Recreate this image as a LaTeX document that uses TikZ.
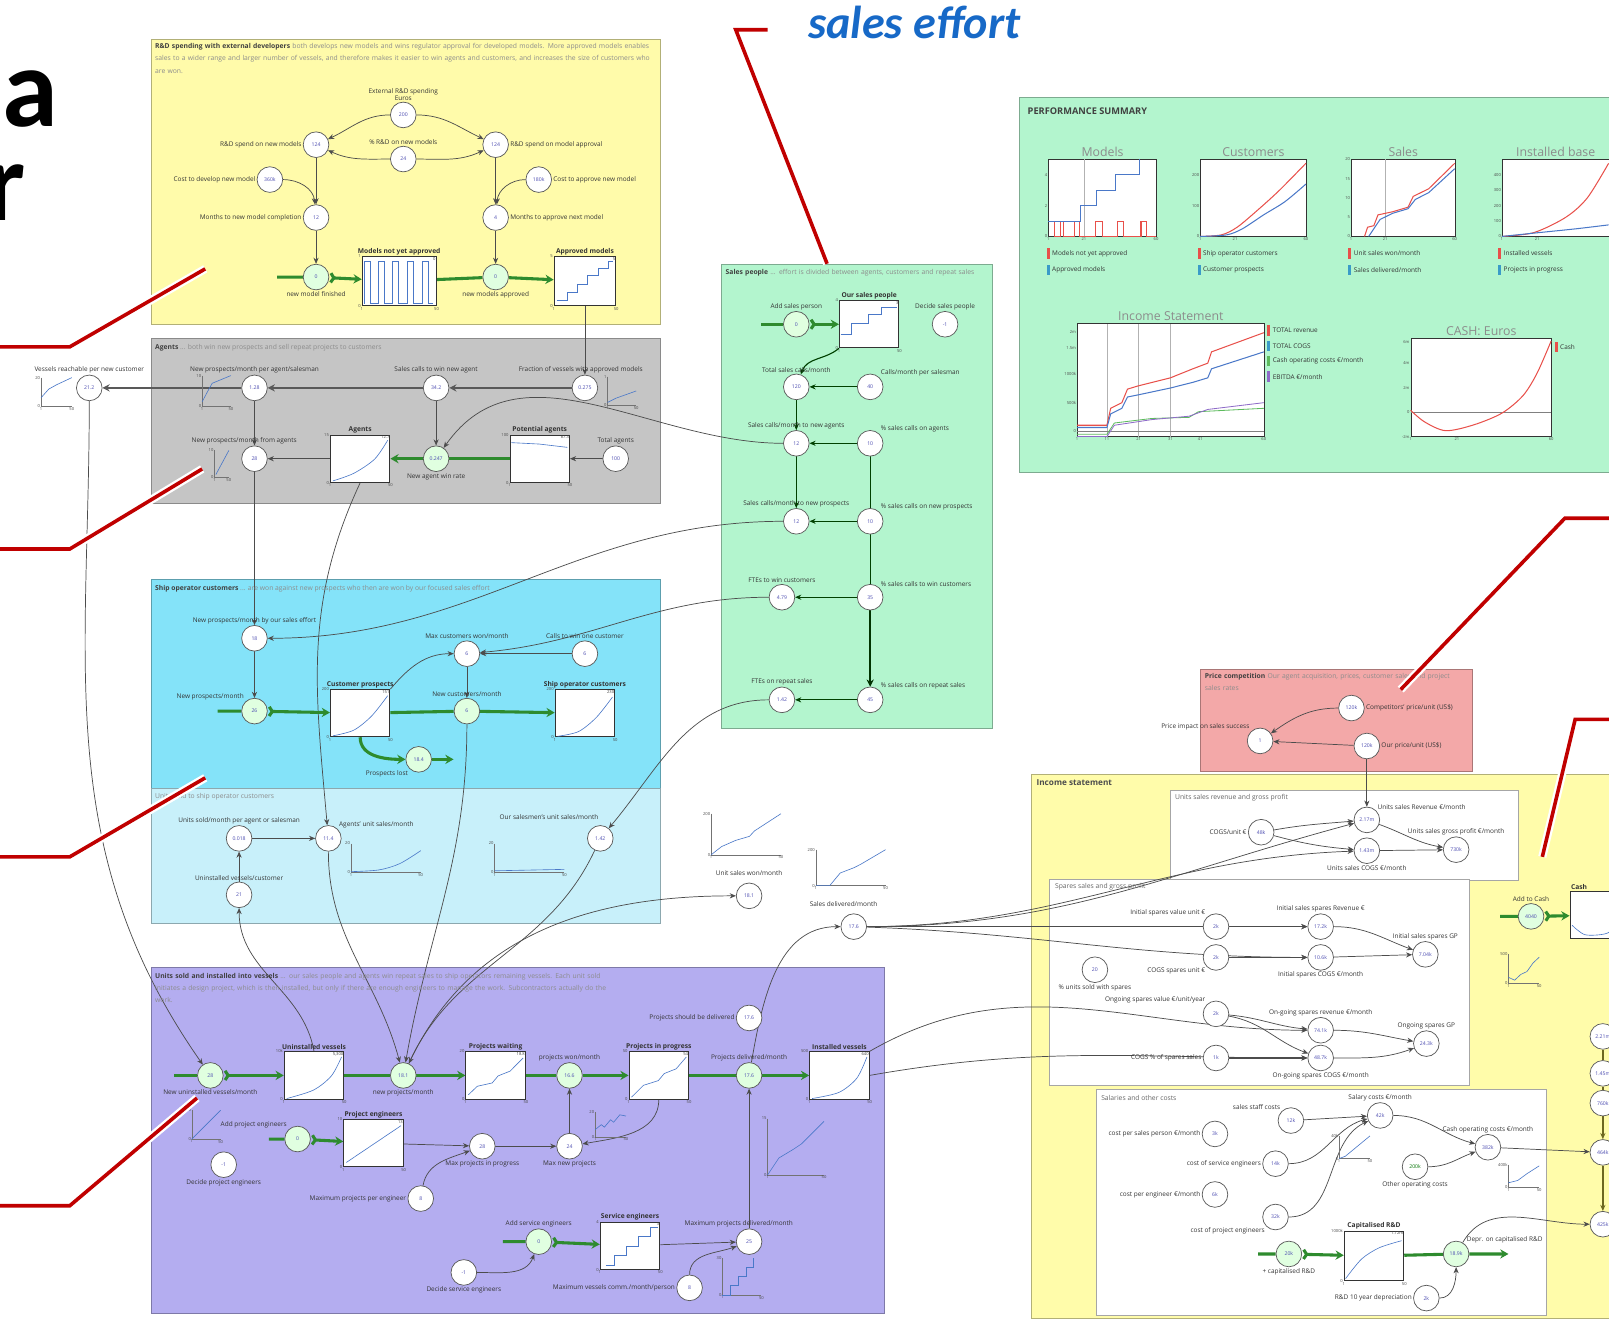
\documentclass[tikz,border=0pt]{standalone}
\usepackage{fontspec}
\setmainfont{Open Sans}
\newfontfamily\calib{Carlito}
\usetikzlibrary{arrows.meta}
\pgfdeclarelayer{back}
\pgfdeclarelayer{mid}
\pgfsetlayers{back,mid,main}
\definecolor{rdyel}{HTML}{FFFBAA}
\definecolor{agray}{HTML}{C5C5C5}
\definecolor{mint}{HTML}{B3F5CE}
\definecolor{cyanp}{HTML}{84E3F9}
\definecolor{lcyan}{HTML}{C8F0FA}
\definecolor{lav}{HTML}{B4ADF0}
\definecolor{rose}{HTML}{F3A8A8}
\definecolor{incyel}{HTML}{FFFCAA}
\definecolor{flowg}{HTML}{2E8B2E}
\definecolor{calred}{HTML}{C00000}
\definecolor{salesblue}{HTML}{1769C7}
\definecolor{plotblue}{HTML}{4A78C8}
\definecolor{plotred}{HTML}{E8504A}
\definecolor{plotgreen}{HTML}{5DBB5D}
\definecolor{plotpurple}{HTML}{8E6BC8}
\definecolor{plotteal}{HTML}{3A9BC8}
\definecolor{valblue}{HTML}{4B4BB0}

% plot inside a stock box: node name, width, height, path in the unit square
\newcommand\boxplot[4]{\begin{scope}[shift={(#1.south west)},x=#2pt,y=#3pt]\draw[chartline] #4;\end{scope}}
% axis numbers and current value around a stock box
\newcommand\stockdeco[3]{%
  \node[tick,anchor=east] at (#1.south west) {0};
  \node[tick,anchor=east] at (#1.north west) {#2};
  \node[tick,anchor=north] at (#1.south west) {1};
  \node[tick,anchor=north] at (#1.south east) {50};
  \node[tick,anchor=north east,text=black!75] at (#1.north east) {#3};}
% free-standing small graph: bottom-left x, y, width, height, curve, top number
\newcommand\minigraph[6]{%
  \begin{scope}[shift={(#1,#2)}]
    \draw[black!55,line width=0.4pt] (0,-#4) -- (0,0) -- (#3,0);
    \node[tick,anchor=east] at (0,-#4) {#6};
    \node[tick,anchor=east] at (0,0) {0};
    \node[tick,anchor=north] at (0,0) {1};
    \node[tick,anchor=north] at (#3,0) {50};
  \end{scope}
  \begin{scope}[shift={(#1,#2)},x=#3pt,y=#4pt]
    \draw[chartline] #5;
  \end{scope}}
% legend entry of a summary chart
\newcommand\legitem[4]{\fill[#3] (#1,#2-5) rectangle (#1+3,#2+5);
  \node[lbl,anchor=west] at (#1+4,#2) {#4};}

\begin{document}
\begin{tikzpicture}[x=1pt,y=-1pt]
\tikzset{
  aux/.style={circle,draw=black!65,line width=0.7pt,fill=white,minimum size=25pt,inner sep=0pt,font=\fontsize{5}{5}\selectfont,text=valblue},
  valve/.style={aux,fill=green!12!white},
  stockbox/.style={draw=black!80,line width=0.9pt,fill=white,minimum width=58pt,minimum height=46pt,inner sep=0pt},
  chartbox/.style={draw=black!80,line width=0.8pt,fill=white,inner sep=0pt},
  charttitle/.style={font=\fontsize{12}{13}\selectfont,text=black!45,inner sep=2pt},
  lbl/.style={font=\fontsize{6.3}{7}\selectfont,text=black!80,inner sep=1.2pt},
  stocklbl/.style={font=\bfseries\fontsize{6.5}{7}\selectfont,text=black!80,inner sep=1.2pt},
  tick/.style={font=\fontsize{4}{4.5}\selectfont,text=black!70,inner sep=0.8pt},
  chartline/.style={draw=plotblue,line width=0.6pt},
  link/.style={-{Stealth[length=6pt,width=5pt]},draw=black!70,line width=0.7pt},
  glink/.style={link,draw=green!25!black,line width=1.1pt},
  heavy/.style={-{Stealth[length=7pt,width=7pt]},draw=black!65,line width=2.4pt},
  flow/.style={{Straight Barb[reversed,length=3pt,width=9pt]}-{Stealth[length=8pt,width=9pt]},draw=flowg,line width=3pt},
  flowmid/.style={-{Stealth[length=8pt,width=9pt]},draw=flowg,line width=3pt},
  callout/.style={draw=calred,line width=3.5pt,line join=miter},
  halo/.style={draw=white,line width=8pt,line join=miter},
  panel/.style={fill=#1,draw=#1!70!black,line width=0.6pt},
  subpanel/.style={fill=white,draw=black!35,line width=0.6pt},
  ptitle/.style={anchor=north west,align=left,font=\fontsize{6.6}{12}\selectfont,text=black!45,inner sep=0pt},
}
\path[use as bounding box] (0,0) rectangle (1568,1285);

% ---------------- panels ----------------
\begin{pgfonlayer}{back}
\fill[white] (0,0) rectangle (1568,1285);
\path[panel=rdyel] (147,38) rectangle (643,316);
\path[panel=agray] (147,330) rectangle (643,490);
\path[panel=mint] (703,258) rectangle (967,710);
\path[panel=mint] (993,95) rectangle (1580,460);
\path[panel=cyanp] (147,565) rectangle (643,768);
\path[panel=lcyan] (147,768) rectangle (643,900);
\path[panel=lav] (147,943) rectangle (862,1280);
\path[panel=rose] (1170,652) rectangle (1435,752);
\path[panel=incyel] (1005,755) rectangle (1580,1285);
\path[subpanel] (1140,770) rectangle (1480,858);
\path[subpanel] (1023,857) rectangle (1432,1058);
\path[subpanel] (1068,1062) rectangle (1507,1282);
\end{pgfonlayer}

% ---------------- panel titles ----------------
\node[ptitle,text width=488pt] (t1) at (151,42) {\textbf{\color{black!75}R\&D spending with external developers} both develops new models and wins regulator approval for developed models. More approved models enables sales to a wider range and larger number of vessels, and therefore makes it easier to win agents and customers, and increases the size of customers who are won.};
\node[ptitle] (t2) at (151,335) {\textbf{\color{black!75}Agents} ... both win new prospects and sell repeat projects to customers};
\node[ptitle,text width=255pt] (t3) at (707,262) {\textbf{\color{black!75}Sales people} ... effort is divided between agents, customers and repeat sales};
\node[anchor=west,font=\bfseries\fontsize{9}{10}\selectfont,text=black!75] (t4) at (998,108) {PERFORMANCE SUMMARY};
\node[ptitle] (t5) at (151,570) {\textbf{\color{black!75}Ship operator customers} ... are won against new prospects who then are won by our focused sales effort};
\node[ptitle] (t6) at (151,773) {Units sold to ship operator customers};
\node[ptitle,text width=440pt] (t7) at (151,948) {\textbf{\color{black!75}Units sold and installed into vessels} ... our sales people and agents win repeat sales to ship operators remaining vessels. Each unit sold initiates a design project, which is then installed, but only if there are enough engineers to manage the work. Subcontractors actually do the work.};
\node[ptitle,text width=255pt] (t8) at (1174,656) {\textbf{\color{black!75}Price competition} Our agent acquisition, prices, customer sales and project sales rates};
\node[anchor=north west,font=\bfseries\fontsize{8}{9}\selectfont,text=black!70,inner sep=0pt] (t9) at (1010,760) {Income statement};
\node[ptitle,text=black!60] (t10) at (1145,774) {Units sales revenue and gross profit};
\node[ptitle,text=black!60] (t11) at (1028,861) {Spares sales and gross profit};
\node[ptitle,text=black!60] (t12) at (1073,1067) {Salaries and other costs};

% ---------------- R&D ----------------
\node[aux,label={[lbl,align=center]above:External R\&D spending\\Euros}] (ext) at (393,112) {200};
\node[aux,label={[lbl]above:\% R\&D on new models}] (pctnew) at (393,155) {24};
\node[aux,label={[lbl]left:R\&D spend on new models}] (rdnew) at (308,141) {124};
\node[aux,label={[lbl]right:R\&D spend on model approval}] (rdapp) at (483,141) {124};
\node[aux,label={[lbl]left:Cost to develop new model}] (cdev) at (263,175) {360k};
\node[aux,label={[lbl]right:Cost to approve new model}] (capp) at (525,175) {180k};
\node[aux,label={[lbl]left:Months to new model completion}] (mnew) at (308,212) {12};
\node[aux,label={[lbl]right:Months to approve next model}] (mapp) at (483,212) {4};
\node[valve,label={[lbl]below:new model finished}] (vfin) at (308,270) {0};
\node[stockbox,minimum width=72pt,minimum height=48pt,label={[stocklbl]above:Models not yet approved}] (mnya) at (389,274) {};
\node[valve,label={[lbl]below:new models approved}] (vapp) at (483,270) {0};
\node[stockbox,minimum width=60pt,minimum height=48pt,label={[stocklbl]above:Approved models}] (apm) at (570,274) {};
\coordinate (srcfin) at (270,270);
\boxplot{mnya}{72}{48}{(0.04,0.05)--(0.04,0.92)--(0.12,0.92)--(0.12,0.05)--(0.22,0.05)--(0.22,0.92)--(0.3,0.92)--(0.3,0.05)--(0.42,0.05)--(0.42,0.92)--(0.5,0.92)--(0.5,0.05)--(0.62,0.05)--(0.62,0.92)--(0.7,0.92)--(0.7,0.05)--(0.82,0.05)--(0.82,0.92)--(0.9,0.92)--(0.9,0.05)--(0.97,0.05)}
\stockdeco{mnya}{1}{0}
\boxplot{apm}{60}{48}{(0.05,0.12)--(0.22,0.12)--(0.22,0.28)--(0.38,0.28)--(0.38,0.45)--(0.55,0.45)--(0.55,0.62)--(0.72,0.62)--(0.72,0.78)--(0.88,0.78)--(0.88,0.92)--(0.97,0.92)}
\stockdeco{apm}{5}{5}

% ---------------- Agents ----------------
\node[aux,label={[lbl,xshift=-4pt]above:Fraction of vessels with approved models}] (frac) at (570,378) {0.275};
\node[aux,label={[lbl]above:Sales calls to win new agent}] (winag) at (425,378) {34.2};
\node[aux,label={[lbl]above:New prospects/month per agent/salesman}] (ppa) at (248,378) {1.28};
\node[aux,label={[lbl]above:Vessels reachable per new customer}] (reach) at (87,378) {21.2};
\node[aux,label={[lbl,xshift=-10pt]above:New prospects/month from agents}] (npa) at (248,447) {28};
\node[stockbox,label={[stocklbl]above:Agents}] (agents) at (351,447) {};
\node[valve,label={[lbl]below:New agent win rate}] (winrate) at (425,447) {0.247};
\node[stockbox,label={[stocklbl]above:Potential agents}] (potag) at (526,447) {};
\node[aux,label={[lbl]above:Total agents}] (totag) at (600,447) {100};
\boxplot{agents}{58}{46}{plot[smooth] coordinates {(0.05,0.04) (0.4,0.2) (0.75,0.5) (0.97,0.9)}}
\stockdeco{agents}{15}{12.7}
\boxplot{potag}{58}{46}{(0.03,0.85)--(0.5,0.82)--(0.97,0.75)}
\stockdeco{potag}{100}{87.3}
\minigraph{592}{395}{28}{28}{(0,0.1)--(0.3,0.25)--(1,0.5)}{1}
\minigraph{197}{396}{28}{30}{(0,0.15)--(0.2,0.5)--(0.35,0.75)--(1,1)}{10}
\minigraph{40}{396}{30}{28}{(0,0.3)--(0.25,0.6)--(0.5,0.75)--(1,1)}{20}
\minigraph{209}{465}{14}{26}{(0.1,0.1)--(1,1)}{10}

% ---------------- Sales people ----------------
\coordinate (srcsp) at (742,316);
\node[valve,label={[lbl]above:Add sales person}] (addsp) at (776,316) {0};
\node[stockbox,label={[stocklbl]above:Our sales people}] (oursp) at (847,316) {};
\node[aux,label={[lbl]above:Decide sales people}] (decsp) at (921,316) {-1};
\node[aux,label={[lbl]above:Total sales calls/month}] (totcalls) at (776,377) {120};
\node[aux,label={[lbl]above right:Calls/month per salesman}] (cpm) at (848,377) {40};
\node[aux,label={[lbl]above:Sales calls/month to new agents}] (scag) at (776,432) {12};
\node[aux,label={[lbl]above right:\% sales calls on agents}] (pag) at (848,432) {10};
\node[aux,label={[lbl]above:Sales calls/month to new prospects}] (scpr) at (776,508) {12};
\node[aux,label={[lbl]above right:\% sales calls on new prospects}] (ppr) at (848,508) {10};
\node[aux,label={[lbl]above:FTEs to win customers}] (ftew) at (762,582) {4.79};
\node[aux,label={[lbl]above right:\% sales calls to win customers}] (pwin) at (848,582) {35};
\node[aux,label={[lbl]above:FTEs on repeat sales}] (fter) at (762,682) {1.42};
\node[aux,label={[lbl]above right:\% sales calls on repeat sales}] (prep) at (848,682) {45};
\boxplot{oursp}{58}{46}{(0.03,0.3)--(0.2,0.3)--(0.2,0.52)--(0.5,0.52)--(0.5,0.72)--(0.72,0.72)--(0.72,0.86)--(0.97,0.86)}
\stockdeco{oursp}{4}{3}

% ---------------- Performance summary ----------------
\node[chartbox,minimum width=105pt,minimum height=75pt] (cmod) at (1074.5,192.5) {};
\node[charttitle,anchor=south] (ttmod) at (cmod.north) {Models};
\begin{scope}[shift={(cmod.south west)},x=105pt,y=75pt]
  \draw[black!30,line width=0.4pt] (0.33,0) -- (0.33,1);
  \draw[plotred,line width=1pt] (0,0.2)--(0.06,0.2)--(0.06,0)--(0.11,0)--(0.11,0.2)--(0.14,0.2)--(0.14,0)--(0.24,0)--(0.24,0.2)--(0.29,0.2)--(0.29,0)--(0.44,0)--(0.44,0.2)--(0.5,0.2)--(0.5,0)--(0.64,0)--(0.64,0.2)--(0.7,0.2)--(0.7,0)--(0.86,0)--(0.86,0.2)--(0.91,0.2)--(0.91,0)--(1,0);
  \draw[plotblue,line width=1pt] (0,0.2)--(0.3,0.2)--(0.3,0.4)--(0.45,0.4)--(0.45,0.6)--(0.62,0.6)--(0.62,0.8)--(0.85,0.8)--(0.85,1);
  \foreach \v/\t in {0/0,0.4/2,0.8/4} \node[tick,anchor=east] at (0,\v) {\t};
  \foreach \u/\t in {0/1,0.33/21,1/60} \node[tick,anchor=north] at (\u,0) {\t};
\end{scope}
\legitem{1020}{247}{plotred}{Models not yet approved}
\legitem{1020}{263}{plotteal}{Approved models}

\node[chartbox,minimum width=103pt,minimum height=75pt] (ccus) at (1221.5,192.5) {};
\node[charttitle,anchor=south] (ttcus) at (ccus.north) {Customers};
\begin{scope}[shift={(ccus.south west)},x=103pt,y=75pt]
  \draw[plotred,line width=1pt] plot[smooth] coordinates {(0,0) (0.2,0.02) (0.35,0.12) (0.55,0.35) (0.75,0.6) (1,0.95)};
  \draw[plotblue,line width=1pt] plot[smooth] coordinates {(0,0) (0.25,0.02) (0.4,0.1) (0.6,0.28) (0.8,0.45) (1,0.68)};
  \foreach \v/\t in {0/0,0.4/100,0.8/200} \node[tick,anchor=east] at (0,\v) {\t};
  \foreach \u/\t in {0/1,0.33/21,1/60} \node[tick,anchor=north] at (\u,0) {\t};
\end{scope}
\legitem{1167}{247}{plotred}{Ship operator customers}
\legitem{1167}{263}{plotteal}{Customer prospects}

\node[chartbox,minimum width=101pt,minimum height=75pt] (csal) at (1367.5,192.5) {};
\node[charttitle,anchor=south] (ttsal) at (csal.north) {Sales};
\begin{scope}[shift={(csal.south west)},x=101pt,y=75pt]
  \draw[black!30,line width=0.4pt] (0.33,0) -- (0.33,1);
  \draw[plotred,line width=1pt] (0.13,0)--(0.16,0.12)--(0.22,0.14)--(0.26,0.28)--(0.4,0.32)--(0.55,0.38)--(0.6,0.52)--(0.75,0.62)--(1,0.95);
  \draw[plotblue,line width=1pt] (0.17,0)--(0.22,0.1)--(0.28,0.22)--(0.4,0.3)--(0.55,0.36)--(0.62,0.48)--(0.75,0.57)--(1,0.88);
  \foreach \v/\t in {0/0,0.25/5,0.5/10,0.75/15,1/20} \node[tick,anchor=east] at (0,\v) {\t};
  \foreach \u/\t in {0/1,0.33/21,1/60} \node[tick,anchor=north] at (\u,0) {\t};
\end{scope}
\legitem{1314}{247}{plotred}{Unit sales won/month}
\legitem{1314}{263}{plotteal}{Sales delivered/month}

\node[chartbox,minimum width=104pt,minimum height=75pt] (cins) at (1516,192.5) {};
\node[charttitle,anchor=south] (ttins) at (cins.north) {Installed base};
\begin{scope}[shift={(cins.south west)},x=104pt,y=75pt]
  \draw[plotred,line width=1pt] plot[smooth] coordinates {(0,0) (0.3,0.05) (0.6,0.25) (0.8,0.5) (1,0.95)};
  \draw[plotblue,line width=1pt] plot[smooth] coordinates {(0,0) (0.35,0.05) (0.7,0.1) (1,0.15)};
  \foreach \v/\t in {0/0,0.2/100,0.4/200,0.6/300,0.8/400} \node[tick,anchor=east] at (0,\v) {\t};
  \foreach \u/\t in {0/1,0.33/21} \node[tick,anchor=north] at (\u,0) {\t};
\end{scope}
\legitem{1460}{247}{plotred}{Installed vessels}
\legitem{1460}{263}{plotteal}{Projects in progress}

\node[chartbox,minimum width=182pt,minimum height=110pt] (cinc) at (1141,370) {};
\node[charttitle,anchor=south] (ttinc) at (cinc.north) {Income Statement};
\begin{scope}[shift={(cinc.south west)},x=182pt,y=110pt]
  \foreach \u in {0.16,0.33,0.5} \draw[black!30,line width=0.4pt] (\u,0) -- (\u,1);
  \draw[black!50,line width=0.4pt] (0,0.05) -- (1,0.05);
  \draw[plotred,line width=1pt] (0,0.1)--(0.16,0.1)--(0.18,0.25)--(0.24,0.3)--(0.27,0.42)--(0.33,0.45)--(0.5,0.52)--(0.62,0.6)--(0.7,0.65)--(0.72,0.75)--(1,0.92);
  \draw[plotblue,line width=1pt] (0,0.08)--(0.16,0.08)--(0.18,0.2)--(0.24,0.25)--(0.27,0.35)--(0.33,0.37)--(0.5,0.43)--(0.62,0.48)--(0.7,0.52)--(0.72,0.6)--(1,0.75);
  \draw[plotgreen,line width=0.8pt] (0,0.02)--(0.16,0.02)--(0.2,0.12)--(0.4,0.16)--(0.6,0.17)--(0.65,0.22)--(1,0.25);
  \draw[plotpurple,line width=0.8pt] (0,0.0)--(0.16,0.0)--(0.2,0.1)--(0.4,0.15)--(0.6,0.18)--(0.7,0.24)--(1,0.3);
  \foreach \v/\t in {0.05/0,0.3/500k,0.55/1000k,0.78/1.5m,0.93/2m} \node[tick,anchor=east] at (0,\v) {\t};
  \foreach \u/\t in {0/1,0.16/11,0.33/21,0.5/31,0.66/41,1/60} \node[tick,anchor=north] at (\u,0) {\t};
\end{scope}
\legitem{1235}{322}{plotred}{TOTAL revenue}
\legitem{1235}{337}{plotteal}{TOTAL COGS}
\legitem{1235}{352}{plotgreen}{Cash operating costs €/month}
\legitem{1235}{367}{plotpurple}{EBITDA €/month}

\node[chartbox,minimum width=137pt,minimum height=95pt] (ccash) at (1443.5,377.5) {};
\node[charttitle,anchor=south] (ttcash) at (ccash.north) {CASH: Euros};
\begin{scope}[shift={(ccash.south west)},x=137pt,y=95pt]
  \draw[black!50,line width=0.4pt] (0,0.25) -- (1,0.25);
  \draw[plotred,line width=1pt] plot[smooth] coordinates {(0,0.27) (0.1,0.15) (0.25,0.06) (0.45,0.12) (0.65,0.24) (0.8,0.42) (0.9,0.65) (1,0.98)};
  \foreach \v/\t in {0/-2m,0.25/0,0.5/2m,0.75/4m,0.97/6m} \node[tick,anchor=east] at (0,\v) {\t};
  \foreach \u/\t in {0/1,0.33/21,1/60} \node[tick,anchor=north] at (\u,0) {\t};
\end{scope}
\legitem{1515}{338}{plotred}{Cash}

% ---------------- Ship operator customers ----------------
\coordinate (srcnp) at (212,693);
\node[aux,label={[lbl]above:New prospects/month by our sales effort}] (npsales) at (248,622) {18};
\node[valve,label={[lbl]above left:New prospects/month}] (npm) at (248,693) {26};
\node[stockbox,label={[stocklbl]above:Customer prospects}] (prosp) at (351,695) {};
\node[valve,label={[lbl]above:New customers/month}] (ncm) at (455,693) {6};
\node[stockbox,label={[stocklbl]above:Ship operator customers}] (shipc) at (570,695) {};
\node[aux,label={[lbl]above:Max customers won/month}] (maxwon) at (455,637) {6};
\node[aux,label={[lbl]above:Calls to win one customer}] (calls1) at (570,637) {6};
\node[valve,label={[lbl]below left:Prospects lost}] (lost) at (408,740) {18.4};
\coordinate (lostend) at (442,740);
\boxplot{prosp}{58}{46}{plot[smooth] coordinates {(0.05,0.03) (0.4,0.15) (0.7,0.45) (0.97,0.88)}}
\stockdeco{prosp}{200}{151}
\boxplot{shipc}{58}{46}{plot[smooth] coordinates {(0.05,0.02) (0.4,0.12) (0.7,0.42) (0.97,0.85)}}
\stockdeco{shipc}{200}{230}

% ---------------- Units sold ----------------
\node[aux,label={[lbl]above:Units sold/month per agent or salesman}] (upa) at (233,817) {0.018};
\node[aux,label={[lbl]above right:Agents' unit sales/month}] (agus) at (320,817) {11.4};
\node[aux,label={[lbl]above:Uninstalled vessels/customer}] (uvc) at (233,872) {21};
\node[aux,label={[lbl,xshift=-50pt,yshift=4pt]above:Our salesmen's unit sales/month}] (osus) at (585,817) {1.42};
\minigraph{342}{850}{68}{28}{plot[smooth] coordinates {(0,0.02) (0.4,0.08) (0.7,0.3) (1,0.75)}}{20}
\minigraph{482}{850}{68}{28}{(0,0.05)--(1,0.1)}{20}

% ---------------- free graphs between panels ----------------
\minigraph{693}{833}{68}{40}{(0,0)--(0.15,0.2)--(0.35,0.35)--(0.55,0.45)--(0.62,0.58)--(1,1)}{200}
\node[lbl] (uswl) at (730,851) {Unit sales won/month};
\node[aux] (usw) at (730,873) {18.1};
\minigraph{795}{863}{68}{35}{(0,0)--(0.2,0)--(0.35,0.35)--(0.55,0.5)--(0.65,0.6)--(1,1)}{200}
\node[lbl] (sdml) at (822,881) {Sales delivered/month};
\node[aux] (sdm) at (832,903) {17.6};

% ---------------- Units sold and installed ----------------
\coordinate (srcnuv) at (170,1048);
\node[valve,label={[lbl]below:New uninstalled vessels/month}] (nuv) at (205,1048) {28};
\node[stockbox,label={[stocklbl]above:Uninstalled vessels}] (uninst) at (306,1048) {};
\node[valve,label={[lbl]below:new projects/month}] (nproj) at (393,1048) {18.1};
\node[stockbox,label={[stocklbl]above:Projects waiting}] (pwait) at (483,1048) {};
\node[valve,label={[lbl]above:projects won/month}] (pwon) at (555,1048) {16.6};
\node[stockbox,label={[stocklbl]above:Projects in progress}] (pinprog) at (642,1048) {};
\node[valve,label={[lbl]above:Projects delivered/month}] (pdel) at (730,1048) {17.6};
\node[stockbox,label={[stocklbl]above:Installed vessels}] (installed) at (818,1048) {};
\boxplot{uninst}{58}{46}{plot[smooth] coordinates {(0.05,0.02) (0.5,0.2) (0.8,0.5) (0.97,0.9)}}
\stockdeco{uninst}{10k}{5,300}
\boxplot{pwait}{58}{46}{(0.05,0.1)--(0.2,0.28)--(0.45,0.35)--(0.55,0.5)--(0.75,0.6)--(0.97,0.88)}
\stockdeco{pwait}{20}{18.8}
\boxplot{pinprog}{58}{46}{(0.05,0.05)--(0.25,0.3)--(0.5,0.4)--(0.6,0.55)--(0.8,0.65)--(0.97,0.9)}
\stockdeco{pinprog}{50}{54}
\boxplot{installed}{58}{46}{plot[smooth] coordinates {(0.05,0.02) (0.5,0.15) (0.8,0.45) (0.97,0.9)}}
\stockdeco{installed}{500}{640}
\minigraph{187}{1110}{28}{28}{(0,0)--(0.3,0.3)--(0.6,0.6)--(1,1)}{200}
\node[aux,label={[lbl]below:Decide project engineers}] (decpe) at (218,1135) {-1};
\coordinate (srcpe) at (262,1110);
\node[valve,label={[lbl]above left:Add project engineers}] (addpe) at (290,1110) {0};
\node[stockbox,label={[stocklbl]above:Project engineers}] (projeng) at (364,1114) {};
\boxplot{projeng}{58}{46}{(0.05,0.1)--(0.97,0.88)}
\stockdeco{projeng}{10}{13}
\node[aux,label={[lbl]below:Max projects in progress}] (maxinprog) at (470,1117) {28};
\node[aux,label={[lbl]below:Max new projects}] (maxnew) at (555,1117) {24};
\minigraph{580}{1108}{30}{24}{(0,0.3)--(0.2,0.5)--(0.3,0.4)--(0.5,0.7)--(0.6,0.6)--(0.8,0.9)--(1,0.85)}{20}
\node[aux,label={[lbl]left:Maximum projects per engineer}] (mppe) at (410,1168) {8};
\node[aux,label={[lbl]left:Projects should be delivered}] (psd) at (730,992) {17.6};
\minigraph{748}{1145}{55}{55}{(0,0)--(0.2,0.3)--(0.45,0.45)--(0.6,0.55)--(0.75,0.7)--(1,0.95)}{15}
\node[aux,label={[lbl,xshift=-10pt]above:Maximum projects delivered/month}] (maxdel) at (730,1210) {25};
\coordinate (srcse) at (490,1210);
\node[valve,label={[lbl]above:Add service engineers}] (addse) at (525,1210) {0};
\node[stockbox,label={[stocklbl]above:Service engineers}] (serveng) at (614,1214) {};
\boxplot{serveng}{58}{46}{(0.1,0.1)--(0.25,0.1)--(0.25,0.3)--(0.45,0.3)--(0.45,0.5)--(0.65,0.5)--(0.65,0.7)--(0.85,0.7)--(0.85,0.9)--(0.97,0.9)}
\stockdeco{serveng}{4}{3}
\node[aux,label={[lbl]below:Decide service engineers}] (decse) at (452,1240) {-1};
\node[aux,label={[lbl]left:Maximum vessels comm./month/person}] (mvc) at (672,1255) {8};
\minigraph{704}{1262}{38}{36}{(0,0)--(0.2,0)--(0.2,0.25)--(0.4,0.25)--(0.4,0.5)--(0.6,0.5)--(0.6,0.75)--(0.8,0.75)--(0.8,1)}{30}

% ---------------- Price competition ----------------
\node[aux,label={[lbl]right:Competitors' price/unit (US\$)}] (comp) at (1317,690) {120k};
\node[aux,label={[lbl]right:Our price/unit (US\$)}] (ourp) at (1332,727) {120k};
\node[aux,label={[lbl]above left:Price impact on sales success}] (pimp) at (1228,722) {1};

% ---------------- Income statement ----------------
\node[aux,label={[lbl]left:COGS/unit €}] (cogsu) at (1229,811) {48k};
\node[aux,label={[lbl]above right:Units sales Revenue €/month}] (usrev) at (1332,799) {2.17m};
\node[aux,label={[lbl]below:Units sales COGS €/month}] (uscogs) at (1332,829) {1.43m};
\node[aux,label={[lbl]above:Units sales gross profit €/month}] (usgp) at (1419,828) {730k};

\node[aux,label={[lbl]above left:Initial spares value unit €}] (isv) at (1185,903) {2k};
\node[aux,label={[lbl]above:Initial sales spares Revenue €}] (isrev) at (1287,903) {17.2k};
\node[aux,label={[lbl]below left:COGS spares unit €}] (cogssp) at (1185,933) {2k};
\node[aux,label={[lbl]below:Initial spares COGS €/month}] (iscogs) at (1287,933) {10.6k};
\node[aux,label={[lbl]above:Initial sales spares GP}] (isgp) at (1389,930) {7.04k};
\node[aux,label={[lbl]below:\% units sold with spares}] (pus) at (1067,945) {20};
\node[aux,label={[lbl]above left:Ongoing spares value €/unit/year}] (osv) at (1185,988) {2k};
\node[aux,label={[lbl]above:On-going spares revenue €/month}] (osrev) at (1287,1004) {74.1k};
\node[aux,label={[lbl]left:COGS \% of spares sales}] (ocs) at (1185,1031) {1k};
\node[aux,label={[lbl]below:On-going spares COGS €/month}] (oscogs) at (1287,1031) {48.7k};
\node[aux,label={[lbl]above:Ongoing spares GP}] (osgp) at (1390,1017) {24.3k};

\node[aux,label={[lbl]left:cost per sales person €/month}] (cpsp) at (1184,1105) {3k};
\node[aux,label={[lbl]above left:sales staff costs}] (ssc) at (1258,1092) {12k};
\node[aux,label={[lbl]above:Salary costs €/month}] (salary) at (1345,1087) {42k};
\node[aux,label={[lbl]left:cost of service engineers}] (cse) at (1243,1134) {14k};
\node[aux,label={[lbl]left:cost per engineer €/month}] (cpe) at (1184,1164) {6k};
\node[aux,label={[lbl]below left:cost of project engineers}] (cpeng) at (1243,1186) {32k};
\node[aux,text=green!45!black,label={[lbl]below:Other operating costs}] (othop) at (1379,1137) {200k};
\node[aux,label={[lbl]above:Cash operating costs €/month}] (cashop) at (1450,1118) {382k};
\minigraph{1305}{1129}{30}{22}{(0,0)--(0.2,0.1)--(1,1)}{40k}
\minigraph{1470}{1157}{30}{22}{(0,0.2)--(0.3,0.3)--(0.6,0.6)--(1,0.95)}{400k}
\coordinate (srccap) at (1226,1222);
\node[valve,label={[lbl]below:+ capitalised R\&D}] (capr) at (1256,1222) {20k};
\node[stockbox,minimum height=48pt,label={[stocklbl]above:Capitalised R\&D}] (caprd) at (1339,1224) {};
\boxplot{caprd}{58}{48}{plot[smooth] coordinates {(0.03,0.05) (0.3,0.45) (0.6,0.68) (0.97,0.82)}}
\stockdeco{caprd}{1000k}{1.12m}
\node[valve,label={[lbl]above right:Depr. on capitalised R\&D}] (depr) at (1419,1222) {18.9k};
\coordinate (deprend) at (1470,1222);
\node[aux,label={[lbl]left:R\&D 10 year depreciation}] (rd10) at (1390,1265) {2k};

\coordinate (srccash) at (1462,893);
\node[valve,label={[lbl]above:Add to Cash}] (addcash) at (1492,893) {4040};
\node[stockbox,minimum width=50pt,label={[stocklbl,anchor=south west]north west:Cash}] (cash) at (1555,892) {};
\boxplot{cash}{50}{46}{plot[smooth] coordinates {(0.05,0.3) (0.3,0.1) (0.7,0.12) (1,0.3)}}
\minigraph{1470}{958}{30}{28}{(0,0.2)--(0.2,0.1)--(0.4,0.3)--(0.6,0.4)--(0.8,0.7)--(1,0.9)}{500}
\node[aux] (rc1) at (1562,1010) {2.21m};
\node[aux] (rc2) at (1562,1046) {1.45m};
\node[aux] (rc3) at (1562,1075) {760k};
\node[aux] (rc4) at (1562,1123) {464k};
\node[aux] (rc5) at (1562,1193) {425k};

% ---------------- connectors ----------------
\begin{pgfonlayer}{mid}
% R&D
\draw[link] (ext) to[out=180,in=25] (rdnew);
\draw[link] (pctnew) to[out=180,in=-25] (rdnew);
\draw[link] (ext) to[out=0,in=155] (rdapp);
\draw[link] (pctnew) to[out=0,in=205] (rdapp);
\draw[link] (rdnew) -- (mnew);
\draw[link] (mnew) -- (vfin);
\draw[link] (rdapp) -- (mapp);
\draw[link] (mapp) -- (vapp);
\draw[link] (cdev) to[out=0,in=95] (mnew);
\draw[link] (capp) to[out=180,in=85] (mapp);
\draw[flow] (srcfin) -- (vfin) -- (mnya);
\draw[flowmid] (mnya) -- (vapp) -- (apm);
\draw[link] (apm) -- (frac);
% agents
\draw[heavy] (frac) -- (winag);
\draw[heavy] (winag) -- (ppa);
\draw[heavy,line width=1.6pt] (ppa) -- (reach);
\draw[link] (ppa) -- (npa);
\draw[link] (agents) -- (npa);
\draw[link] (winag) -- (winrate);
\draw[link] (totag) -- (potag);
\draw[flowmid] (potag) -- (winrate) -- (agents);
% sales people
\draw[flow] (srcsp) -- (addsp) -- (oursp);
\draw[glink] (oursp.south west) to[out=-140,in=70] (totcalls);
\draw[glink] (cpm) -- (totcalls);
\draw[glink] (totcalls) -- (scag);
\draw[glink,line width=0.7pt] (scag) -- (scpr);
\draw[glink] (pag) -- (scag);
\draw[glink] (ppr) -- (scpr);
\draw[glink] (pwin) -- (ftew);
\draw[glink] (prep) -- (fter);
\draw[green!25!black,line width=0.8pt] (pag) -- (ppr) -- (pwin);
\draw[heavy,draw=green!20!black,line width=1.6pt] (pwin) -- (prep);
% links between panels
\draw[link] (scag) to[out=180,in=55] (winrate);
\draw[link] (scpr) to[out=180,in=0] (npsales);
\draw[link] (ftew) to[out=180,in=5] (maxwon);
\draw[link] (fter) to[out=180,in=50] (osus);
\draw[link,line width=1.1pt] (npa) -- (npsales);
\draw[link] (reach) to[out=-90,in=125] (nuv);
\draw[link] (agents.south) to[out=-115,in=95] (agus);
% customers
\draw[link] (npsales) -- (npm);
\draw[flow] (srcnp) -- (npm) -- (prosp);
\draw[flowmid] (prosp) -- (ncm) -- (shipc);
\draw[link] (calls1) -- (maxwon);
\draw[link] (maxwon) -- (ncm);
\draw[link] (prosp.north east) to[out=50,in=180] (maxwon);
\draw[flowmid] (prosp.south) to[out=-90,in=180] (lost);
\draw[flowmid] (lost) -- (lostend);
% units sold
\draw[link] (upa) -- (agus);
\draw[link] (uvc) -- (upa);
\draw[link] (uninst.north) to[out=100,in=-90] (uvc);
\draw[link] (agus) to[out=-90,in=105] (nproj);
\draw[link] (ncm) to[out=-90,in=80] (nproj);
\draw[link] (osus) to[out=-115,in=65] (nproj);
\draw[link] (nproj) to[out=65,in=180] (usw);
\draw[link] (pdel) to[out=80,in=180] (sdm);
% installation
\draw[flow] (srcnuv) -- (nuv) -- (uninst);
\draw[flowmid] (uninst) -- (nproj) -- (pwait);
\draw[flowmid] (pwait) -- (pwon) -- (pinprog);
\draw[flowmid] (pinprog) -- (pdel) -- (installed);
\draw[flow] (srcpe) -- (addpe) -- (projeng);
\draw[link] (projeng) -- (maxinprog);
\draw[link] (maxinprog) -- (maxnew);
\draw[link] (maxnew) -- (pwon);
\draw[link] (pinprog.south) to[out=-90,in=10] (maxnew);
\draw[link] (mppe) to[out=80,in=200] (maxinprog);
\draw[flow] (srcse) -- (addse) -- (serveng);
\draw[link] (serveng) -- (maxdel);
\draw[link] (mvc) to[out=90,in=200] (maxdel);
\draw[link] (maxdel) -- (pdel);
\draw[link] (decse) to[out=0,in=-110] (addse);
% price and income
\draw[link] (ourp) -- (pimp);
\draw[link] (comp) to[out=180,in=35] (pimp);
\draw[link] (ourp) -- (usrev);
\draw[link] (sdm) to[out=0,in=195] (usrev);
\draw[link] (sdm) to[out=0,in=182] (uscogs);
\draw[link] (cogsu) to[out=10,in=185] (usrev);
\draw[link] (cogsu) to[out=-15,in=175] (uscogs);
\draw[link] (usrev) to[out=-20,in=170] (usgp);
\draw[link] (uscogs) -- (usgp);
\draw[link] (sdm) -- (isrev);
\draw[link] (sdm) to[out=-2,in=180] (iscogs);
\draw[link,line width=1.2pt] (isv) -- (isrev);
\draw[link,line width=1.2pt] (cogssp) -- (iscogs);
\draw[link] (isrev) to[out=0,in=160] (isgp);
\draw[link] (iscogs) -- (isgp);
\draw[link] (installed.north east) to[out=30,in=180] (osrev);
\draw[link] (installed.east) to[out=10,in=180] (oscogs);
\draw[link] (osv) to[out=-5,in=175] (osrev);
\draw[link] (osv) to[out=-10,in=160] (oscogs);
\draw[link,line width=1.1pt] (ocs) -- (oscogs);
\draw[link] (osrev) to[out=0,in=170] (osgp);
\draw[link] (oscogs) to[out=0,in=200] (osgp);
\draw[link] (ssc) -- (salary);
\draw[link] (cse) to[out=0,in=195] (salary);
\draw[link] (cpeng) to[out=0,in=205] (salary);
\draw[link] (salary) to[out=0,in=165] (cashop);
\draw[link] (othop) to[out=0,in=200] (cashop);
\draw[link] (cashop) -- (rc4);
\draw[flow] (srccap) -- (capr) -- (caprd);
\draw[flowmid] (caprd) -- (depr) -- (deprend);
\draw[link] (rd10) to[out=0,in=-90] (depr);
\draw[link] (depr) to[out=60,in=180] (rc5);
\draw[flow] (srccash) -- (addcash) -- (cash);
\draw[draw=olive!70!black,line width=1.4pt] (rc1) -- (rc2) -- (rc3);
\draw[link,draw=olive!70!black,line width=1.4pt] (rc3) -- (rc4);
\draw[link,draw=olive!70!black,line width=1.4pt] (rc4) -- (rc5);
\end{pgfonlayer}

% ---------------- callouts ----------------
\node[font=\calib\bfseries\fontsize{110}{110}\selectfont,anchor=base east,inner sep=0pt] (biga) at (57,123) {a};
\node[font=\calib\bfseries\fontsize{110}{110}\selectfont,anchor=base west,inner sep=0pt] (bigr) at (-14,215) {r};
\node[font=\calib\bfseries\itshape\fontsize{45}{45}\selectfont,text=salesblue,inner sep=0pt] (saleseff) at (891,22) {sales effort};
\foreach \p in {
  {(748,29) -- (717,29) -- (806,257)},
  {(-5,338) -- (68,338) -- (200,262)},
  {(-5,535) -- (68,535) -- (197,457)},
  {(-5,835) -- (68,835) -- (200,758)},
  {(-5,1175) -- (68,1175) -- (192,1070)},
  {(1575,505) -- (1525,505) -- (1365,672)},
  {(1575,701) -- (1535,701) -- (1503,835)}}
  {\draw[halo] \p; \draw[callout] \p;}
\end{tikzpicture}
\end{document}
